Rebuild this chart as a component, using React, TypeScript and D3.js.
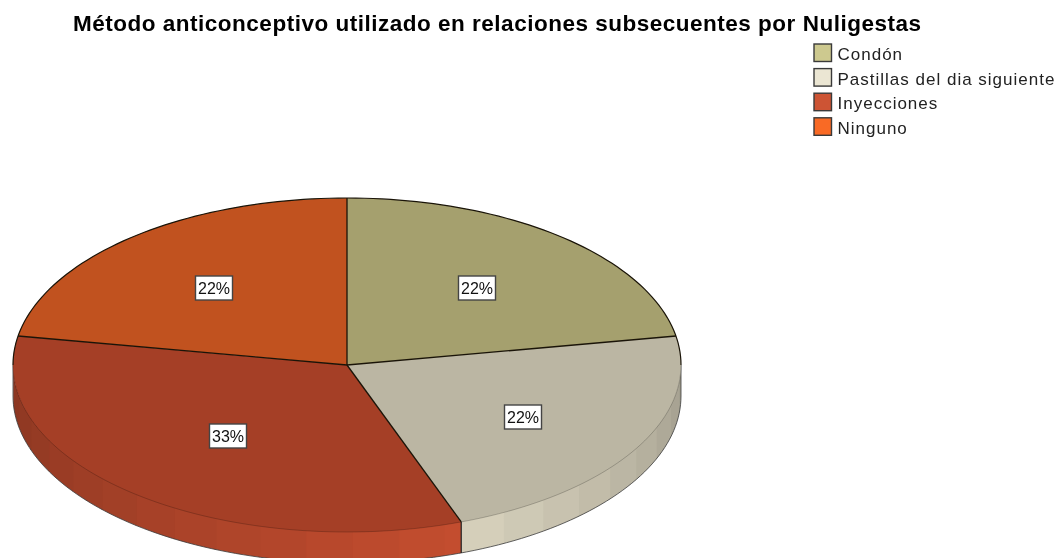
import React from "react";
import * as d3 from "d3";

const titleText = "Método anticonceptivo utilizado en relaciones subsecuentes por Nuligestas";
const categories = ["Condón", "Pastillas del dia siguiente", "Inyecciones", "Ninguno"];
const counts = [2, 2, 3, 2];
const percentLabels = ["22%", "22%", "33%", "22%"];
const legendColors = ["#cdc98f", "#ebe6d3", "#cd5434", "#f96a25"];
const topColors = ["#a5a06e", "#bbb6a3", "#a53f26", "#c1521f"];
const sideBase = ["#a5a06e", "#d8d2bd", "#c44d2f", "#c1521f"];
const facetOffsetDeg = [0, 0, 3, 0];

const CX = 347, CY = 365, RX = 334, RY = 167, DEPTH = 31;
const rad = (deg: number) => (deg * Math.PI) / 180;
const FACET = rad(8);
const labelPos = [[477, 288], [523, 417], [228, 436], [214, 288]];

const xAt = (a: number) => CX + RX * Math.sin(a);
const yAt = (a: number) => CY - RY * Math.cos(a);

const shade = d3
  .scaleLinear<number>()
  .domain([rad(90), rad(160), rad(270)])
  .range([0.74, 1.0, 0.7])
  .clamp(true);

const line = d3.line<[number, number]>();

function sideFacets() {
  const arcs = d3.pie<number>().sort(null)(counts);
  const out: { d: string; fill: string; key: string }[] = [];
  arcs.forEach((arc, i) => {
    const aStart = Math.max(arc.startAngle, Math.PI / 2);
    const aEnd = Math.min(arc.endAngle, (3 * Math.PI) / 2);
    if (aEnd <= aStart) return;
    const off = rad(facetOffsetDeg[i]);
    let a = aStart;
    while (a < aEnd - 1e-6) {
      const next = Math.min(off + (Math.floor((a - off) / FACET + 1e-6) + 1) * FACET, aEnd);
      const drawEnd = Math.min(next + rad(0.4), aEnd);
      const steps = d3.range(0, 5).map((k) => a + ((drawEnd - a) * k) / 4);
      const pts: [number, number][] = [
        ...steps.map((t): [number, number] => [xAt(t), yAt(t) - 1]),
        ...steps.slice().reverse().map((t): [number, number] => [xAt(t), yAt(t) + DEPTH]),
      ];
      const c = d3.color(sideBase[i])!.rgb();
      const f = shade((a + next) / 2);
      out.push({ key: `${i}-${a}`, d: line(pts) + "Z", fill: d3.rgb(c.r * f, c.g * f, c.b * f).formatHex() });
      a = next;
    }
  });
  return out;
}

function curve(start: number, end: number, dy: number) {
  const pts = d3.range(0, 121).map((k): [number, number] => {
    const t = start + ((end - start) * k) / 120;
    return [xAt(t), yAt(t) + dy];
  });
  return line(pts)!;
}

export default function App() {
  const arcs = d3.pie<number>().sort(null)(counts);
  const arcGen = d3.arc<d3.PieArcDatum<number>>().innerRadius(0).outerRadius(1);
  const font = "'Liberation Sans', Arial, sans-serif";
  const splitAngle = arcs[1].endAngle;
  const spokes = arcs.map((a) => a.startAngle);
  return (
    <svg
      width={1059}
      height={558}
      style={{ position: "absolute", left: 0, top: 0, background: "#fff", filter: "blur(0.35px)" }}
      fontFamily={font}
    >
      <text x={73} y={31} fontSize={22.5} fontWeight="bold" fill="#000" textLength={848} lengthAdjust="spacing">
        {titleText}
      </text>

      {sideFacets().map((f) => (
        <path key={f.key} d={f.d} fill={f.fill} />
      ))}
      <path d={curve(Math.PI / 2, (3 * Math.PI) / 2, DEPTH)} fill="none" stroke="#3a3a3a" strokeWidth={0.8} />
      <line x1={xAt(Math.PI / 2)} x2={xAt(Math.PI / 2)} y1={CY} y2={CY + DEPTH} stroke="#3a3a3a" strokeWidth={0.8} />
      <line x1={xAt(rad(270))} x2={xAt(rad(270))} y1={CY} y2={CY + DEPTH} stroke="#3a3a3a" strokeWidth={0.8} />
      <line
        x1={xAt(splitAngle)}
        x2={xAt(splitAngle)}
        y1={yAt(splitAngle)}
        y2={yAt(splitAngle) + DEPTH}
        stroke="#222"
        strokeWidth={1.2}
      />

      <g transform={`translate(${CX},${CY}) scale(${RX},${RY})`}>
        {arcs.map((a, i) => (
          <path key={i} d={arcGen(a)!} fill={topColors[i]} />
        ))}
      </g>
      <path d={curve(Math.PI / 2, (3 * Math.PI) / 2, 0)} fill="none" stroke="#000" strokeOpacity={0.3} strokeWidth={0.7} />
      <path d={curve(-Math.PI / 2, Math.PI / 2, 0)} fill="none" stroke="#1a1408" strokeWidth={1.2} />
      {spokes.map((a, i) => (
        <line key={i} x1={CX} y1={CY} x2={xAt(a)} y2={yAt(a)} stroke="#1a1408" strokeWidth={1.3} />
      ))}

      {percentLabels.map((t, i) => (
        <g key={i}>
          <rect
            x={labelPos[i][0] - 18.5}
            y={labelPos[i][1] - 12}
            width={37}
            height={24}
            fill="#fff"
            stroke="#444"
            strokeWidth={1.4}
          />
          <text x={labelPos[i][0]} y={labelPos[i][1] + 6} textAnchor="middle" fontSize={16} fill="#111">
            {t}
          </text>
        </g>
      ))}

      {categories.map((c, i) => (
        <g key={c} transform={`translate(0,${43 + i * 24.6})`}>
          <rect x={814} y={1} width={17.5} height={17.5} fill={legendColors[i]} stroke="#3a3a3a" strokeWidth={1.4} />
          <text x={837.5} y={17} fontSize={17} letterSpacing={1} fill="#222">
            {c}
          </text>
        </g>
      ))}
    </svg>
  );
}
